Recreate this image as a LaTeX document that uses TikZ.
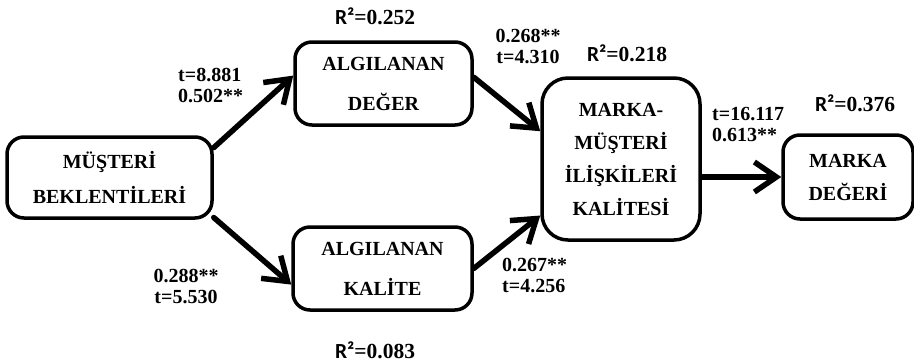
\documentclass[tikz,border=0pt]{standalone}
\usepackage{fontspec}
\setmainfont{Liberation Serif}
\newfontfamily\rsqfont{Carlito}
\usetikzlibrary{arrows.meta, positioning}
\newcommand{\rsq}[1]{{\rsqfont R²}=#1}

\begin{document}
\begin{tikzpicture}[
    x=1pt, y=-1pt,
    box/.style={draw, line width=3.5pt, rounded corners=17pt, align=center, inner sep=0pt, font=\fontsize{20}{34}\selectfont\bfseries},
    lbl/.style={inner sep=0pt, font=\fontsize{20}{21}\selectfont\bfseries},
    rlbl/.style={inner sep=0pt, font=\fontsize{21.5}{22}\selectfont\bfseries},
    link/.style={line width=5.5pt, line cap=round, -{Straight Barb[length=22pt, width=30pt]}}
]
    \useasboundingbox (0,0) rectangle (914,362);

    % Constructs
    \node[box, minimum width=205pt, minimum height=81pt, font=\fontsize{20}{35}\selectfont\bfseries] (musteri) at (109.5,177.5) {MÜŞTERİ\\BEKLENTİLERİ};
    \node[box, minimum width=177pt, minimum height=83pt, font=\fontsize{20}{40}\selectfont\bfseries] (deger) at (383.5,83.5) {ALGILANAN\\DEĞER};
    \node[box, minimum width=179pt, minimum height=83pt, font=\fontsize{20}{40}\selectfont\bfseries] (kalite) at (382.5,268.5) {ALGILANAN\\KALİTE};
    \node[box, minimum width=158pt, minimum height=162pt, rounded corners=26pt, font=\fontsize{20}{33}\selectfont\bfseries] (iliski) at (621,159) {MARKA-\\MÜŞTERİ\\İLİŞKİLERİ\\KALİTESİ};
    \node[box, minimum width=130pt, minimum height=84pt, font=\fontsize{20}{33}\selectfont\bfseries] (marka) at (848,177) {MARKA\\DEĞERİ};

    % Paths
    \draw[link] (musteri.16) -- (deger.175);
    \draw[link] (musteri.-21) -- (kalite.190);
    \draw[link] (deger.4) -- (iliski.161);
    \draw[link] (kalite.east) -- (iliski.215);
    \draw[link] (iliski.east |- marka) -- (marka.west);

    % Coefficients
    \node[lbl, align=left, anchor=west] (c1) at (178,85) {t=8.881\\0.502**};
    \node[lbl, align=center] (c2) at (528,46) {0.268**\\t=4.310};
    \node[lbl, align=center] (c3) at (186,286) {0.288**\\t=5.530};
    \node[lbl, align=left, anchor=west] (c4) at (502,275) {0.267**\\t=4.256};
    \node[lbl, align=left, anchor=west] (c5) at (712,125) {t=16.117\\0.613**};

    % R squared
    \node[rlbl] (r1) at (375,16) {\rsq{0.252}};
    \node[rlbl] (r2) at (627,53) {\rsq{0.218}};
    \node[rlbl] (r3) at (855,103) {\rsq{0.376}};
    \node[rlbl] (r4) at (375,350) {\rsq{0.083}};
\end{tikzpicture}
\end{document}
